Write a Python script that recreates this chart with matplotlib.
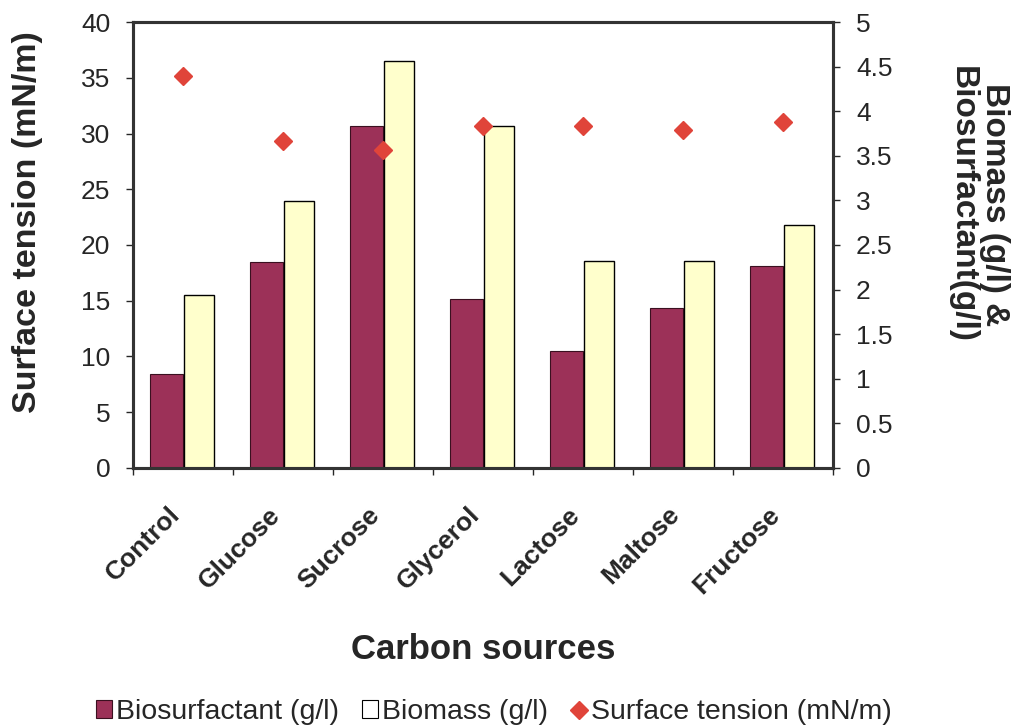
import numpy as np
import matplotlib
matplotlib.use("Agg")
import matplotlib.pyplot as plt
import matplotlib.transforms as mtransforms
from matplotlib.patches import Patch
from matplotlib.lines import Line2D
from matplotlib.ticker import FuncFormatter

plt.rcParams['font.family'] = ['Liberation Sans', 'DejaVu Sans']

categories = ['Control', 'Glucose', 'Sucrose', 'Glycerol', 'Lactose', 'Maltose', 'Fructose']
biosurfactant = [1.05, 2.31, 3.83, 1.89, 1.31, 1.79, 2.27]      # g/l
biomass = [1.94, 2.99, 4.56, 3.83, 2.32, 2.32, 2.72]            # g/l
surface_tension = [35.2, 29.3, 28.5, 30.7, 30.7, 30.3, 31.0]    # mN/m

txt = '#262626'
maroon = '#9c3158'
cream = '#ffffcc'
red = '#e0443a'

fig = plt.figure(figsize=(10.25, 7.27), dpi=100)
ax = fig.add_axes([0.1298, 0.3563, 0.683, 0.6134])
ax2 = ax.twinx()

x = np.arange(len(categories))
w = 0.31
ax2.bar(x - w / 2 - 0.01, biosurfactant, w + 0.02, color=maroon, edgecolor='#3a1020', linewidth=0.8)
ax2.bar(x + w / 2, biomass, w - 0.01, color=cream, edgecolor='black', linewidth=1.0)

# diamonds drawn above the bars
ax.set_zorder(ax2.get_zorder() + 1)
ax.patch.set_visible(False)
ax.plot(x, surface_tension, linestyle='none', marker='D', markersize=9,
        color=red, markeredgecolor=red)

ax.set_xlim(-0.5, len(categories) - 0.5)
ax.set_ylim(0, 40)
ax2.set_ylim(0, 5)
ax.set_yticks(np.arange(0, 41, 5))
ax2.set_yticks(np.arange(0, 5.01, 0.5))
ax2.yaxis.set_major_formatter(FuncFormatter(lambda v, p: f'{v:g}'))

ax.set_xticks(x)
ax.set_xticks(np.arange(-0.5, len(categories), 1.0), minor=True)
ax.tick_params(axis='x', which='major', length=0, pad=31)
ax.tick_params(axis='x', which='minor', length=5, width=1, color=txt)
ax.set_xticklabels(categories, rotation=45, ha='right', va='center',
                   rotation_mode='anchor', fontsize=19, fontweight='bold', color=txt)
shift = mtransforms.ScaledTranslation(-7 / 100, 0, fig.dpi_scale_trans)
for lbl in ax.get_xticklabels():
    lbl.set_transform(lbl.get_transform() + shift)

ax.tick_params(axis='y', length=5, width=1, colors=txt, labelsize=19, pad=11.5)
ax2.tick_params(axis='y', length=5, width=1, colors=txt, labelsize=19, pad=11.5)

for a in (ax, ax2):
    for s in a.spines.values():
        s.set_linewidth(2.2)
        s.set_color('#333333')

ax.set_ylabel('Surface tension (mN/m)', fontsize=24.5, fontweight='bold', color=txt)
ax.yaxis.set_label_coords(-0.1286, 0.551)
ax.set_xlabel('Carbon sources', fontsize=25, fontweight='bold', color=txt)
ax.xaxis.set_label_coords(0.5, -0.371)
ax2.set_ylabel('Biomass (g/l) &\nBiosurfactant(g/l)', fontsize=24, fontweight='bold',
               color=txt, rotation=270, linespacing=1.05, va='center')
ax2.yaxis.set_label_coords(1.207, 0.59)

handles = [
    Patch(facecolor=maroon, edgecolor='#3a1020', linewidth=0.8),
    Patch(facecolor='white', edgecolor='black', linewidth=0.8),
    Line2D([], [], linestyle='none', marker='D', markersize=9, color=red),
]
labels = ['Biosurfactant (g/l)', 'Biomass (g/l)', 'Surface tension (mN/m)']
fig.legend(handles, labels, loc='center', bbox_to_anchor=(494 / 1025, 1 - 712 / 727),
           ncol=3, frameon=False, fontsize=20.5, handlelength=0.55, handleheight=0.55,
           handletextpad=0.15, columnspacing=0.8, labelcolor=txt)

fig.savefig('out.png', dpi=100)
